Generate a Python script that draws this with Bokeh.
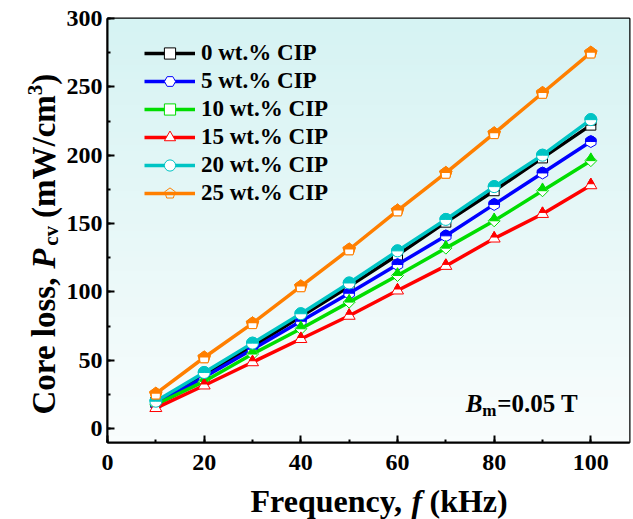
import numpy as np
from bokeh.plotting import figure
from bokeh.layouts import column, row
from bokeh.models import Range1d, SingleIntervalTicker, Label, Legend, LegendItem
from bokeh.core.properties import value
from bokeh.embed import file_html
from bokeh.resources import INLINE

# ---------------- data ----------------
freq = [10, 20, 30, 40, 50, 60, 70, 80, 90, 100]
cip_0 = [19, 39, 60, 82, 104, 127, 151, 174, 198, 222]
cip_5 = [18, 37.5, 58, 78.5, 99, 120, 141, 164, 187, 210]
cip_10 = [17.5, 34.5, 54.5, 73, 92.5, 112, 132, 152, 174, 196]
cip_15 = [15, 31.5, 48.5, 65.5, 82.5, 101, 119, 139, 157, 178]
cip_20 = [20, 41, 62.5, 84, 106.5, 130, 153, 177, 200, 226]
cip_25 = [25.5, 52, 77, 104, 131, 159.5, 187, 216, 245.5, 275]
series_labels = ["0 wt.% CIP", "5 wt.% CIP", "10 wt.% CIP", "15 wt.% CIP", "20 wt.% CIP", "25 wt.% CIP"]
series_colors = ["#000000", "#0000ff", "#00dd00", "#ff0000", "#00c4c4", "#ff7f00"]
x_ticks_interval = 20
y_ticks_interval = 50

# ---------------- layout ----------------
X_LO, X_HI = 0, 108
Y_LO, Y_HI = -10.2, 300
FW, FH = 522, 424
YT_W = 63                      # width of the y-title strip
BL, BR, BT, BB = 44, 4, 18, 42
MAIN_H = BT + FH + BB          # 484
XT_H = 519 - MAIN_H            # 35
TOTAL_W = YT_W + BL + FW + BR  # 633
PPX = FW / (X_HI - X_LO)
PPY = FH / (Y_HI - Y_LO)
FONT = "Liberation Serif"
MID = 0.3375                   # baseline -> middle of font box, in em

p = figure(title=None, frame_width=FW, frame_height=FH,
           x_range=Range1d(X_LO, X_HI), y_range=Range1d(Y_LO, Y_HI),
           min_border_left=BL, min_border_right=BR, min_border_top=BT, min_border_bottom=BB,
           output_backend="svg", toolbar_location=None,
           background_fill_color="white", border_fill_color="white")
p.grid.visible = False
p.outline_line_color = "black"
p.outline_line_width = 2

# background gradient (decoration)
n = 64
t = np.linspace(0, 1, n)
top = np.array([214, 243, 243])
bot = np.array([249, 253, 253])
cols = bot[None, :] + (top - bot)[None, :] * t[:, None]
img = np.zeros((n, 1), dtype=np.uint32)
view = img.view(dtype=np.uint8).reshape((n, 1, 4))
view[:, 0, 0] = cols[:, 0]
view[:, 0, 1] = cols[:, 1]
view[:, 0, 2] = cols[:, 2]
view[:, 0, 3] = 255
p.image_rgba(image=[img], x=X_LO, y=Y_LO, dw=X_HI - X_LO, dh=Y_HI - Y_LO, level="image")

# axes
for ax, interval in ((p.xaxis, x_ticks_interval), (p.yaxis, y_ticks_interval)):
    ax.ticker = SingleIntervalTicker(interval=interval, num_minor_ticks=2)
    ax.axis_line_width = 2
    ax.major_tick_line_width = 2
    ax.minor_tick_line_width = 2
    ax.major_tick_in = 7
    ax.major_tick_out = 0
    ax.minor_tick_in = 3
    ax.minor_tick_out = 0
    ax.axis_label_standoff = 0
    ax.major_label_text_font = FONT
    ax.major_label_text_font_style = "bold"
    ax.major_label_text_font_size = "24px"
    ax.major_label_text_color = "black"
p.xaxis.major_label_standoff = 12
p.yaxis.major_label_standoff = 5

items = []


def shifted(vals, px):
    return [v + px / PPY for v in vals]


LW = 3.5


def add_series(vals, color, label, kind):
    ln = p.line(freq, vals, line_color=color, line_width=LW)
    rends = [ln]
    if kind == "square":
        m = p.scatter(freq, vals, marker="square", size=10, fill_color="white", line_color=color, line_width=1)
        p.rect(freq, shifted(vals, 2.5), width=10, height=5, width_units="screen", height_units="screen",
               fill_color=color, line_color=color, line_width=1)
        rends.append(m)
    elif kind == "hex":
        m = p.scatter(freq, vals, marker="hex", size=12, angle=np.pi / 2, fill_color="white", line_color=color, line_width=1)
        p.wedge(freq, vals, radius=5.5, radius_units="screen", start_angle=0, end_angle=np.pi,
                fill_color=color, line_color=color, line_width=1)
        rends.append(m)
    elif kind == "diamond":
        m = p.scatter(freq, vals, marker="square", size=8.5, angle=np.pi / 4, fill_color="white", line_color=color, line_width=1)
        p.scatter(freq, shifted(vals, 0.289 * 9), marker="triangle", size=9, fill_color=color, line_color=color, line_width=1)
        rends.append(m)
    elif kind == "triangle":
        m = p.scatter(freq, vals, marker="triangle", size=12, fill_color="white", line_color=color, line_width=1)
        p.scatter(freq, shifted(vals, 3.4), marker="triangle", size=6.5, fill_color=color, line_color=color, line_width=1)
        rends.append(m)
    elif kind == "circle":
        m = p.scatter(freq, vals, marker="circle", size=12, fill_color="white", line_color=color, line_width=1)
        p.wedge(freq, vals, radius=6, radius_units="screen", start_angle=0, end_angle=np.pi,
                fill_color=color, line_color=color, line_width=1)
        rends.append(m)
    elif kind == "pentagon":
        p.ngon(freq, vals, radius=6.5, radius_units="screen", n=5, fill_color=color, line_color=color, line_width=1)
        p.rect(freq, shifted(vals, -2.65), width=8, height=5.3, width_units="screen", height_units="screen",
               fill_color="white", line_color=None)
        m = p.ngon(freq, vals, radius=6.5, radius_units="screen", n=5, fill_color=None, line_color=color, line_width=1)
        rends.append(m)
    items.append(LegendItem(label=label, renderers=rends))


kinds = ["square", "hex", "diamond", "triangle", "circle", "pentagon"]
all_vals = [cip_0, cip_5, cip_10, cip_15, cip_20, cip_25]
for vals, color, label, kind in zip(all_vals, series_colors, series_labels, kinds):
    add_series(vals, color, label, kind)

ROW_H = 28
legend = Legend(items=items, location=(37, FH - 21 - ROW_H * len(items)), margin=0, padding=0, spacing=0,
                glyph_width=51, glyph_height=ROW_H, label_height=ROW_H, label_standoff=6,
                background_fill_alpha=0, border_line_alpha=0,
                label_text_font=FONT, label_text_font_style="bold", label_text_font_size="23px",
                label_text_color="black")
p.add_layout(legend)


# B_m = 0.05 T (inside frame); baseline at data (bx, by)
def blabel(text, x, y_base, size, style):
    p.add_layout(Label(x=x, y=y_base + MID * size / PPY, text=text, text_font=FONT, text_font_style=style,
                       text_font_size=f"{size}px", text_baseline="middle", text_color="black"))


bx, by = 74.1, 12.4
blabel("B", bx, by, 25, "bold italic")
blabel("m", bx + 16.7 / PPX, by - 5 / PPY, 17, "bold")
blabel("=0.05 T", bx + 31.5 / PPX, by, 25, "bold")


def strip(w, h, y_range, top_b=0, bot_b=0):
    f = figure(title=None, width=w, height=h, x_range=Range1d(0, w), y_range=y_range,
               x_axis_type=None, y_axis_type=None, min_border=0,
               min_border_left=0, min_border_right=0, min_border_top=top_b, min_border_bottom=bot_b,
               output_backend="svg", toolbar_location=None,
               background_fill_color="white", border_fill_color="white")
    f.outline_line_color = None
    f.grid.visible = False
    return f


# ---- y axis title strip: Core loss, P_cv (mW/cm^3); its frame matches the main frame vertically
yfig = strip(YT_W, MAIN_H, Range1d(Y_LO, Y_HI), BT, BB)


def ytxt(text, px, py, size, style="bold"):
    # px: page x of the baseline, py: page y where the (upward) text starts
    yfig.text(x=[px - MID * size], y=[Y_HI - (py - BT) / PPY], text=[text], angle=np.pi / 2,
              text_font=value(FONT), text_font_style=style, text_font_size=f"{size}px",
              text_color="black", text_baseline="middle", text_align="left")


YB = 55
F = 33
FS = 21
s0 = 414
ytxt("Core loss,", YB, s0, F)
yP = s0 - 4.416 * F
ytxt("P", YB, yP, F, "bold italic")
ycv = yP - 0.667 * F - 1
ytxt("cv", YB + 3, ycv, FS)
ymw = ycv - 0.944 * FS - 8
ytxt("(mW/cm", YB, ymw, F)
y3 = ymw - 3.721 * F
ytxt("3", YB - 13, y3, FS)
ytxt(")", YB, y3 - 0.5 * FS, F)

# ---- x axis title strip: Frequency, f (kHz)
xfig = strip(TOTAL_W, XT_H, Range1d(0, XT_H))


def xtxt(text, px, py, size, style="bold"):
    # px: page x where the text starts, py: page y of the baseline
    xfig.text(x=[px], y=[XT_H - (py - MAIN_H - MID * size)], text=[text], angle=0.0,
              text_font=value(FONT), text_font_style=style, text_font_size=f"{size}px",
              text_color="black", text_baseline="middle", text_align="left")


XB = 511
xtxt("Frequency,", 250, XB, 32)
xtxt("f", 411, XB, 32, "bold italic")
xtxt("(kHz)", 429, XB, 32)

layout = column(row(yfig, p, spacing=0), xfig, spacing=0)
open("out.html", "w").write(file_html(layout, INLINE))
